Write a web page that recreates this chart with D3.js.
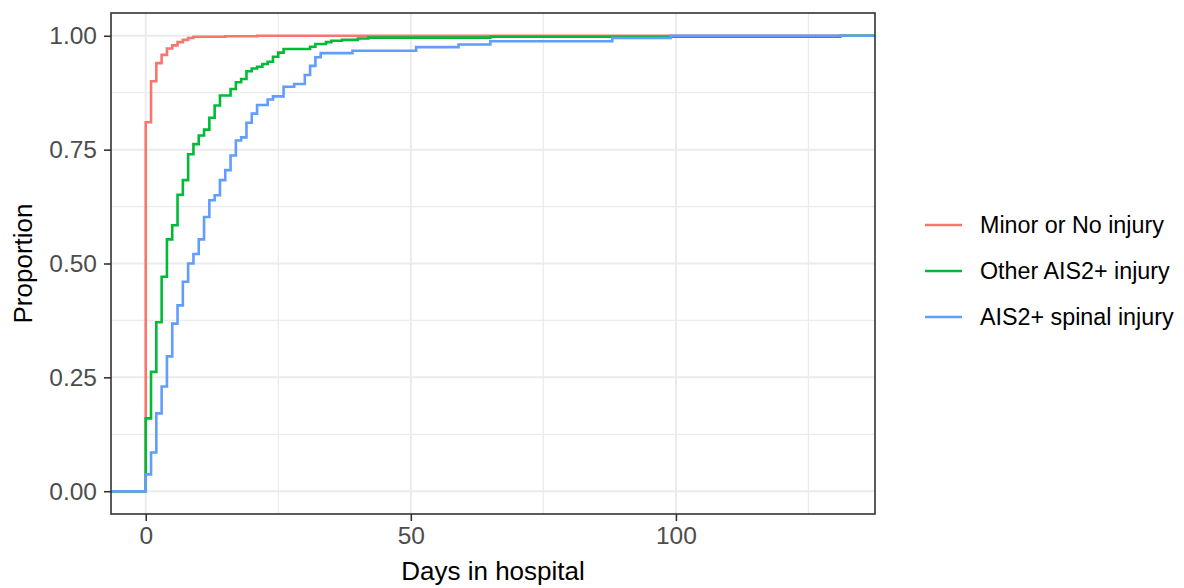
<!DOCTYPE html>
<html>
<head>
<meta charset="utf-8">
<script src="https://cdn.jsdelivr.net/npm/d3@7"></script>
<style>
  body { margin: 0; background: #fff; }
  text { font-family: "Liberation Sans", Arial, sans-serif; }
</style>
</head>
<body>
<svg id="chart" width="1184" height="588"></svg>
<script>
// ECDF steps: day at which each step happens, proportion after it
var minorDays = [0, 1, 2, 3, 4, 5, 6, 7, 8, 9, 15, 21];
var minorProp = [0.81, 0.90, 0.94, 0.958, 0.972, 0.979, 0.986, 0.991, 0.995, 0.998, 0.999, 1.0];

var otherDays = [0, 1, 2, 3, 4, 5, 6, 7, 8, 9, 10, 11, 12, 13, 14, 16, 17, 18, 19, 20, 21, 22, 23, 24, 25, 26, 31, 32, 34, 35, 37, 40, 42, 65, 131];
var otherProp = [0.16, 0.262, 0.371, 0.471, 0.553, 0.584, 0.651, 0.683, 0.740, 0.762, 0.781, 0.794, 0.820, 0.847, 0.869, 0.883, 0.898, 0.905, 0.922, 0.928, 0.932, 0.938, 0.943, 0.954, 0.963, 0.971, 0.976, 0.982, 0.986, 0.989, 0.991, 0.994, 0.996, 0.998, 1.0];

var spinalDays = [0, 1, 2, 3, 4, 5, 6, 7, 8, 9, 10, 11, 12, 13, 14, 15, 16, 17, 18, 19, 20, 21, 23, 24, 26, 28, 30, 31, 32, 33, 39, 51, 59, 65, 88, 99];
var spinalProp = [0.037, 0.085, 0.171, 0.23, 0.296, 0.368, 0.408, 0.46, 0.50, 0.521, 0.553, 0.602, 0.639, 0.65, 0.683, 0.705, 0.737, 0.77, 0.777, 0.809, 0.829, 0.848, 0.86, 0.867, 0.888, 0.894, 0.914, 0.934, 0.953, 0.962, 0.967, 0.975, 0.981, 0.988, 0.995, 1.0];

var groups = ["Minor or No injury", "Other AIS2+ injury", "AIS2+ spinal injury"];
var colors = ["#F8766D", "#00BA38", "#619CFF"];

var xTicks = [0, 50, 100];
var xMinor = [25, 75, 125];
var yTicks = [0, 0.25, 0.5, 0.75, 1];
var yMinor = [0.125, 0.375, 0.625, 0.875];

var svg = d3.select("#chart");
var pLeft = 111, pRight = 875, pTop = 13, pBottom = 514;

// ggplot style 5% expansion around 0..131 days and 0..1
var x = d3.scaleLinear().domain([-6.55, 137.55]).range([pLeft, pRight]);
var y = d3.scaleLinear().domain([-0.05, 1.05]).range([pBottom, pTop]);

var grid = svg.append("g");
grid.selectAll(".ymin").data(yMinor).enter().append("line")
    .attr("x1", pLeft).attr("x2", pRight)
    .attr("y1", function(d){ return y(d); }).attr("y2", function(d){ return y(d); })
    .attr("stroke", "#EBEBEB").attr("stroke-width", 1.2);
grid.selectAll(".xmin").data(xMinor).enter().append("line")
    .attr("y1", pTop).attr("y2", pBottom)
    .attr("x1", function(d){ return x(d); }).attr("x2", function(d){ return x(d); })
    .attr("stroke", "#EBEBEB").attr("stroke-width", 1.2);
grid.selectAll(".ymaj").data(yTicks).enter().append("line")
    .attr("x1", pLeft).attr("x2", pRight)
    .attr("y1", function(d){ return y(d); }).attr("y2", function(d){ return y(d); })
    .attr("stroke", "#EBEBEB").attr("stroke-width", 2);
grid.selectAll(".xmaj").data(xTicks).enter().append("line")
    .attr("y1", pTop).attr("y2", pBottom)
    .attr("x1", function(d){ return x(d); }).attr("x2", function(d){ return x(d); })
    .attr("stroke", "#EBEBEB").attr("stroke-width", 2);

var series = [
    [minorDays, minorProp],
    [otherDays, otherProp],
    [spinalDays, spinalProp]
];

var line = d3.line()
    .x(function(d){ return x(d[0]); })
    .y(function(d){ return y(d[1]); })
    .curve(d3.curveStepAfter);

svg.append("clipPath").attr("id", "panel").append("rect")
    .attr("x", pLeft).attr("y", pTop).attr("width", pRight - pLeft).attr("height", pBottom - pTop);

for(var i = 0; i < series.length; i++){
    var days = series[i][0], prop = series[i][1];
    var pts = [[x.domain()[0], 0]];
    for(var k = 0; k < days.length; k++){
        pts.push([days[k], prop[k]]);
    }
    pts.push([x.domain()[1], prop[prop.length - 1]]);
    svg.append("path")
        .attr("d", line(pts))
        .attr("fill", "none")
        .attr("stroke", colors[i])
        .attr("stroke-width", 2.6)
        .attr("clip-path", "url(#panel)");
}

// panel border
svg.append("rect")
    .attr("x", pLeft).attr("y", pTop)
    .attr("width", pRight - pLeft).attr("height", pBottom - pTop)
    .attr("fill", "none").attr("stroke", "#333333").attr("stroke-width", 1.6);

// axes
var xAxis = d3.axisBottom(x).tickValues(xTicks).tickSize(7).tickPadding(6).tickFormat(d3.format("d"));
var yAxis = d3.axisLeft(y).tickValues(yTicks).tickSize(7).tickPadding(7).tickFormat(d3.format(".2f"));

var gx = svg.append("g").attr("transform", "translate(0," + pBottom + ")").call(xAxis);
var gy = svg.append("g").attr("transform", "translate(" + pLeft + ",0)").call(yAxis);
[gx, gy].forEach(function(g){
    g.select(".domain").remove();
    g.selectAll(".tick line").attr("stroke", "#333333").attr("stroke-width", 1.6);
    g.selectAll(".tick text").attr("fill", "#4D4D4D").style("font-size", "24.5px")
        .style("font-family", "'Liberation Sans', Arial, sans-serif");
});

svg.append("text")
    .attr("x", (pLeft + pRight) / 2).attr("y", 580)
    .attr("text-anchor", "middle")
    .style("font-size", "26px").attr("fill", "#000")
    .text("Days in hospital");

svg.append("text")
    .attr("transform", "translate(32," + ((pTop + pBottom) / 2) + ") rotate(-90)")
    .attr("text-anchor", "middle")
    .style("font-size", "26px").attr("fill", "#000")
    .text("Proportion");

// legend
var legend = svg.append("g");
for(var j = 0; j < groups.length; j++){
    var ly = 225 + j * 46;
    legend.append("line")
        .attr("x1", 925).attr("x2", 962)
        .attr("y1", ly).attr("y2", ly)
        .attr("stroke", colors[j]).attr("stroke-width", 2.6);
    legend.append("text")
        .attr("x", 980).attr("y", ly).attr("dy", "0.35em")
        .style("font-size", "23.3px").attr("fill", "#000")
        .text(groups[j]);
}
</script>
</body>
</html>
